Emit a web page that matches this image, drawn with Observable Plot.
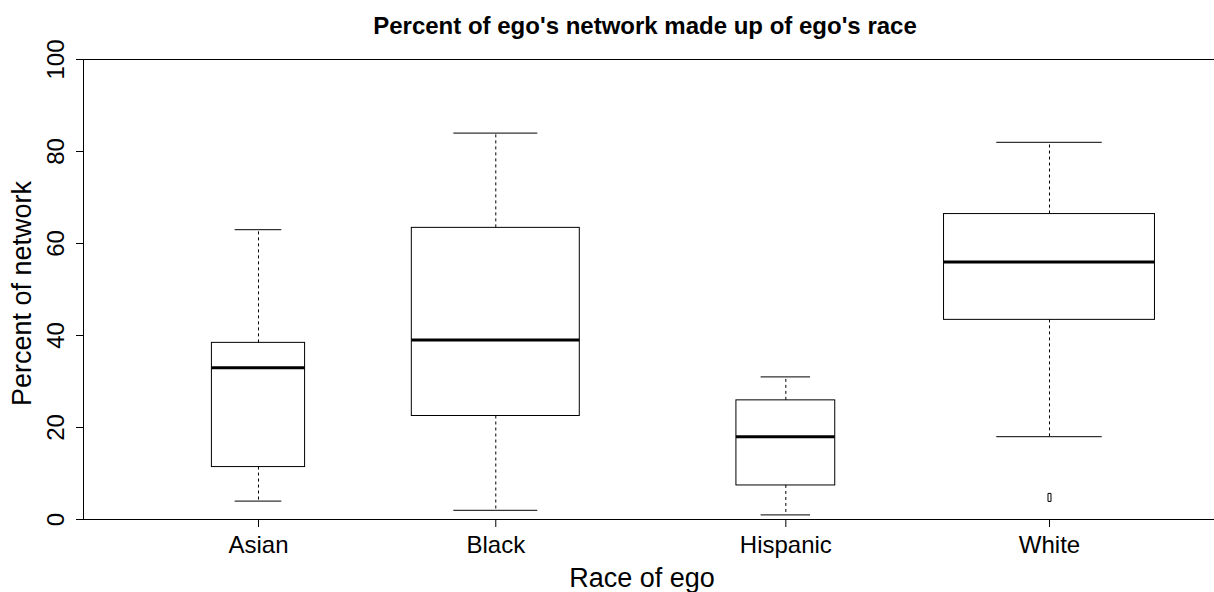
<!DOCTYPE html>
<html><head><meta charset="utf-8">
<script src="https://cdn.jsdelivr.net/npm/d3@7"></script>
<script src="https://cdn.jsdelivr.net/npm/@observablehq/plot@0.6"></script>
<style>html,body{margin:0;padding:0;background:#fff} svg{display:block}</style>
</head><body><div id="chart"></div>
<script>
// ---- data ----
const categories = ["Asian", "Black", "Hispanic", "White"];
const positions = [1, 1.9, 3.0, 4.0];          // box positions (at=)
const counts = [8, 26, 9, 41];                 // group sizes (varwidth)
const lowerWhisker = [4, 2, 1, 18];
const q1 = [11.4, 22.5, 7.4, 43.4];
const median = [33, 39, 18, 56];
const q3 = [38.4, 63.4, 25.9, 66.4];
const upperWhisker = [63, 84, 31, 82];
const outlierGroup = ["White"];
const outlierValue = [4.8];
const yTicks = [0, 20, 40, 60, 80, 100];
const title = "Percent of ego's network made up of ego's race";
const xLabel = "Race of ego";
const yLabel = "Percent of network";

// ---- derived table ----
const maxN = d3.max(counts);
const rows = categories.map((c, i) => ({
  cat: c, pos: positions[i],
  w: 0.8 * Math.sqrt(counts[i] / maxN),
  lo: lowerWhisker[i], q1: q1[i], med: median[i], q3: q3[i], hi: upperWhisker[i]
}));
const outliers = outlierGroup.map((g, i) => ({pos: positions[categories.indexOf(g)], v: outlierValue[i]}));

const FONT = "'Liberation Sans', Arial, Helvetica, sans-serif";
const tallRect = {draw(ctx) { ctx.rect(-1.5, -4, 3, 8); }};
const xDomain = [0.3363, 4.6258];

const chart = Plot.plot({
  width: 1214, height: 592,
  marginLeft: 83, marginRight: 0, marginTop: 59, marginBottom: 73,
  style: {fontFamily: FONT, fontSize: "24px", color: "black", background: "white"},
  x: {type: "linear", domain: xDomain},
  y: {domain: [0, 100]},
  marks: [
    // frame lines (left, top, bottom)
    Plot.ruleY([0, 100], {stroke: "black", strokeWidth: 1}),
    Plot.ruleX([xDomain[0]], {stroke: "black", strokeWidth: 1, y1: 0, y2: 100}),
    // axes
    Plot.axisY({ticks: yTicks, tickSize: 7, tickRotate: -90, tickPadding: 13, fontSize: 24, label: null}),
    Plot.axisX({ticks: positions, tickFormat: d => categories[positions.indexOf(d)], tickSize: 8, tickPadding: 8, fontSize: 24, label: null}),
    // whiskers
    Plot.ruleX(rows, {x: "pos", y1: "q3", y2: "hi", stroke: "black", strokeWidth: 1, strokeDasharray: "3,3"}),
    Plot.ruleX(rows, {x: "pos", y1: "q1", y2: "lo", stroke: "black", strokeWidth: 1, strokeDasharray: "3,3"}),
    // caps
    Plot.ruleY(rows, {y: "hi", x1: d => d.pos - d.w / 4, x2: d => d.pos + d.w / 4, stroke: "black", strokeWidth: 1}),
    Plot.ruleY(rows, {y: "lo", x1: d => d.pos - d.w / 4, x2: d => d.pos + d.w / 4, stroke: "black", strokeWidth: 1}),
    // boxes
    Plot.rect(rows, {x1: d => d.pos - d.w / 2, x2: d => d.pos + d.w / 2, y1: "q1", y2: "q3", fill: "white", stroke: "black", strokeWidth: 1}),
    // medians
    Plot.ruleY(rows, {y: "med", x1: d => d.pos - d.w / 2, x2: d => d.pos + d.w / 2, stroke: "black", strokeWidth: 3}),
    // outliers
    Plot.dot(outliers, {x: "pos", y: "v", symbol: tallRect, r: 4, fill: "none", stroke: "black", strokeWidth: 1}),
    // titles
    Plot.text([title], {frameAnchor: "top", dy: -33, dx: -4, fontSize: 24, fontWeight: "bold", lineAnchor: "middle", textAnchor: "middle"}),
    Plot.text([xLabel], {frameAnchor: "bottom", dy: 59, dx: -7, fontSize: 27, lineAnchor: "middle", textAnchor: "middle"}),
    Plot.text([yLabel], {frameAnchor: "left", dx: -61, dy: 4, rotate: -90, fontSize: 27, lineAnchor: "middle", textAnchor: "middle"})
  ]
});
document.getElementById("chart").appendChild(chart);
</script>
</body></html>
